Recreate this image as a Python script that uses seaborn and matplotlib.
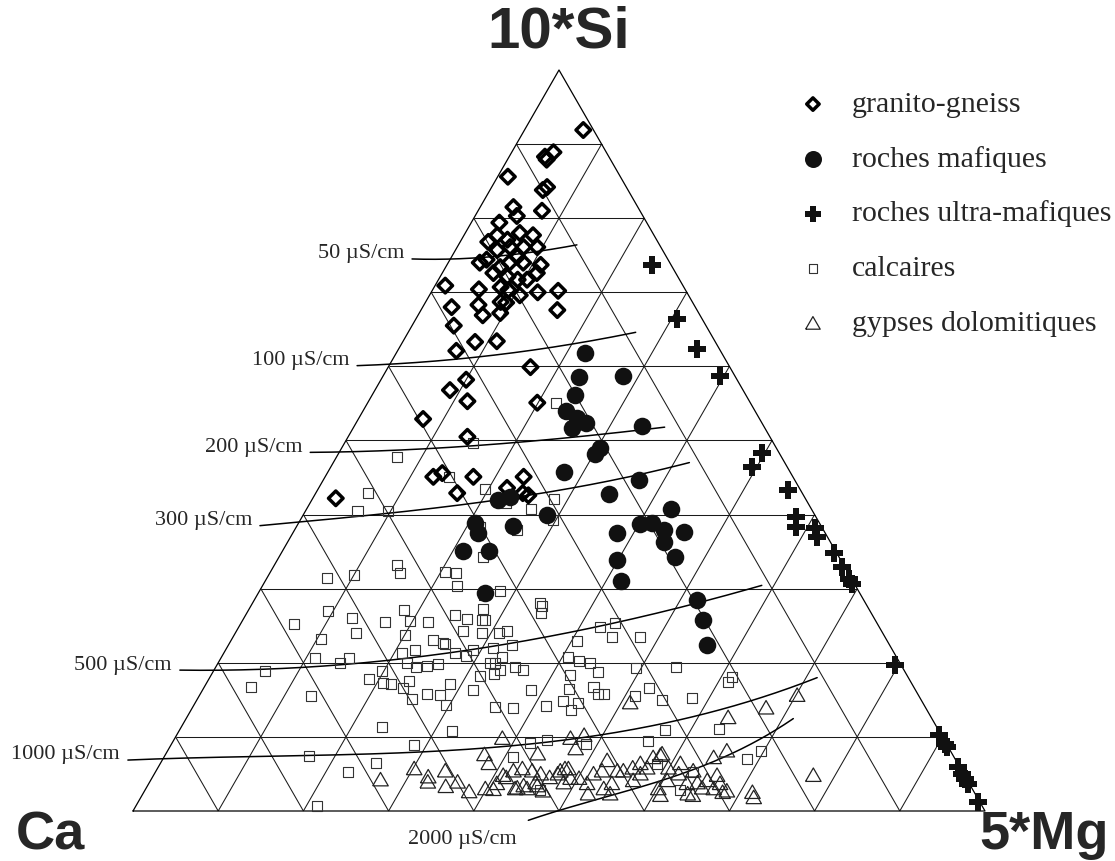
import numpy as np
import matplotlib
matplotlib.use("Agg")
import matplotlib.pyplot as plt
import seaborn as sns

# Ternary compositions in percent: 10*Si (top), 5*Mg (right); Ca = 100 - Si - Mg
gneiss_si = [91.9, 88.3, 88.9, 87.9, 85.6, 84.2, 83.8, 81.5, 80.3, 81.0, 79.4, 76.8, 77.7,
             77.1, 78.0, 77.7, 76.1, 75.7, 76.1, 76.1, 74.8, 74.0, 74.4, 73.4, 74.0, 74.0,
             73.7, 72.6, 72.6, 72.1, 71.7, 71.7, 70.7, 70.3, 70.9, 70.4, 69.6, 70.0, 70.2,
             68.0, 68.3, 68.7, 67.6, 66.9, 67.2, 68.6, 65.5, 63.3, 63.4, 62.1, 59.9, 58.2,
             56.8, 55.3, 55.1, 52.9, 50.5, 45.1, 45.6, 42.9, 45.1, 43.6, 45.1, 42.6, 42.2, 42.9]
gneiss_mg = [6.9, 4.2, 4.9, 4.6, 1.2, 6.5, 6.2, 3.9, 4.9, 7.5, 3.3, 3.3, 3.9,
             5.4, 6.4, 8.1, 9.4, 4.9, 6.2, 7.8, 7.7, 3.7, 4.3, 6.4, 7.2, 8.8,
             11.0, 11.1, 6.0, 7.9, 9.3, 10.4, 7.8, 8.9, 1.2, 5.4, 10.6, 12.5, 14.8,
             3.4, 6.4, 8.8, 16.0, 7.6, 9.5, 9.5, 4.9, 8.5, 11.0, 6.9, 16.7, 10.0,
             8.8, 11.6, 19.9, 7.6, 14.0, 12.7, 13.5, 16.6, 17.4, 22.1, 23.3, 25.1, 2.7, 24.3]

mafic_si = [61.8, 58.6, 58.7, 56.1, 54.0, 53.0, 52.4, 51.7, 52.0, 49.0, 48.2, 45.7, 44.7,
            42.8, 42.0, 42.4, 39.9, 40.8, 38.7, 38.9, 37.9, 37.7, 36.3, 37.5, 38.9, 37.5,
            38.5, 35.1, 35.1, 34.3, 33.9, 31.0, 29.4, 28.5, 25.8, 22.4]
mafic_mg = [22.2, 23.0, 28.2, 23.8, 23.8, 25.6, 27.0, 25.7, 33.7, 30.3, 30.1, 27.7, 37.0,
            34.5, 21.8, 23.0, 28.7, 42.7, 40.2, 41.5, 43.4, 45.8, 44.2, 38.1, 20.7, 21.7,
            25.4, 21.2, 24.2, 46.5, 39.9, 41.8, 26.6, 52.0, 54.0, 56.2]

ultra_si = [73.7, 66.4, 62.3, 58.7, 48.3, 46.4, 43.3, 39.7, 38.3, 38.2, 37.0, 34.8, 32.9,
            31.3, 30.6, 19.7, 10.3, 9.0, 8.6, 5.9, 5.0, 4.3, 3.6, 1.2]
ultra_mg = [24.1, 30.6, 35.0, 39.5, 49.7, 49.5, 55.2, 58.0, 58.7, 60.9, 61.8, 64.9, 66.8,
            68.4, 69.1, 79.6, 89.5, 90.8, 91.2, 93.9, 94.8, 95.5, 96.2, 98.6]

calc_si = [55.1, 49.7, 47.8, 45.1, 43.5, 42.9, 40.5, 40.5, 41.6, 40.8, 42.1, 39.3, 37.9, 38.3, 34.3,
           31.4, 31.8, 33.2, 32.1, 32.3, 32.1, 30.4, 29.1, 29.7,
           27.0, 25.2, 26.0, 24.0, 23.2, 25.5, 27.1, 25.6, 25.5, 23.8, 26.5, 25.9, 27.3, 25.8, 25.8,
           24.3, 24.0, 24.0, 24.3, 23.1, 22.7, 22.5, 21.3, 21.7, 20.9, 22.0, 22.4, 20.8,
           28.1, 27.7, 26.7,
           20.6, 20.0, 20.6, 18.9, 16.7, 15.5, 18.9, 17.8, 17.3, 17.1, 21.3, 21.7, 20.0, 19.4, 19.6,
           19.8, 17.5, 16.6, 15.1, 15.8, 15.7, 14.3, 17.1, 16.3, 18.2, 20.0, 20.0, 18.5, 19.0, 19.4,
           19.0, 16.3, 14.0, 13.9, 14.2,
           20.8, 20.2, 20.0, 18.8, 18.4, 16.5, 16.7, 14.8, 13.6, 14.6, 24.8, 25.4, 23.5, 23.5, 22.9,
           19.3, 19.4, 15.8, 15.8, 15.5, 16.6, 15.0, 15.2, 17.4, 18.1,
           11.3, 8.9, 7.4, 6.5, 5.3, 0.7, 10.8, 9.2, 9.6, 7.3, 9.0, 10.9, 11.1, 9.4, 8.1, 7.0,
           6.3, 5.3, 2.8, 2.8]
calc_mg = [22.1, 15.1, 7.1, 14.5, 19.6, 6.1, 6.1, 9.7, 23.0, 26.3, 28.4, 29.7, 26.1, 21.6, 23.9,
           7.1, 10.0, 14.4, 15.3, 20.5, 21.9, 22.8, 26.7, 28.2,
           9.4, 6.3, 12.7, 14.2, 10.5, 16.8, 18.3, 19.7, 21.9, 20.0, 24.6, 26.3, 27.4, 28.1, 28.4,
           26.6, 29.0, 31.0, 31.8, 23.7, 25.0, 25.4, 27.2, 29.1, 28.6, 31.3, 33.3, 32.9,
           33.7, 34.2, 34.5,
           11.1, 14.3, 15.1, 6.1, 5.5, 13.1, 19.8, 18.8, 20.7, 21.7, 20.9, 22.2, 22.2, 23.5, 24.7,
           25.9, 23.6, 23.4, 25.2, 26.6, 28.2, 29.6, 28.6, 31.7, 31.6, 31.9, 32.5, 33.1, 33.6, 35.1,
           36.3, 38.6, 35.5, 37.6, 41.4,
           40.7, 42.2, 43.6, 45.2, 42.1, 42.9, 45.7, 43.1, 44.6, 44.9, 42.4, 43.9, 44.5, 47.8, 40.7,
           49.4, 54.0, 46.7, 47.4, 51.2, 52.3, 54.6, 58.0, 61.1, 61.3,
           23.6, 28.5, 17.0, 25.3, 22.6, 21.3, 32.0, 42.0, 43.8, 41.0, 48.7, 57.0, 63.2, 55.7, 69.7, 68.6,
           58.3, 63.1, 62.8, 46.4]

gyps_si = [4.3, 5.8, 4.7, 4.0, 5.5, 3.4, 4.0, 2.7, 3.1, 3.0, 7.7, 6.5, 9.9, 7.8, 9.9, 8.5, 10.3,
           14.7, 12.7, 14.0, 15.7, 8.2, 7.3, 4.9, 2.6, 1.9, 7.6,
           4.9, 5.5, 5.8, 5.5, 5.1, 4.6, 5.5, 5.8, 3.2, 3.1, 3.5, 2.8, 3.9, 4.5, 3.8, 4.6, 3.1, 3.9,
           5.1, 5.8, 4.5, 5.1, 5.5, 6.9, 5.5, 3.8, 2.4, 5.5, 5.9, 6.5, 5.9, 7.3, 7.8, 5.9, 5.1, 5.5,
           4.2, 3.1, 3.8, 2.6, 3.2, 2.2, 3.8, 4.2, 3.1, 2.2, 4.2, 5.1, 3.8, 2.4, 3.1, 6.5, 2.4, 4.9,
           2.8, 3.9, 3.5]
gyps_mg = [26.9, 30.1, 32.3, 32.6, 33.9, 35.0, 36.1, 38.1, 39.8, 40.8, 37.4, 38.5, 38.4, 43.6,
           46.4, 47.7, 47.8, 51.0, 63.5, 67.3, 70.1, 65.6, 64.5, 77.4, 71.4, 71.9, 58.1,
           41.0, 41.9, 42.8, 44.1, 45.3, 46.6, 47.4, 48.2, 43.5, 44.7, 45.7, 46.7, 48.6, 49.1, 40.8,
           41.5, 43.3, 45.3, 47.3, 47.8, 50.1, 51.5, 52.3, 52.2, 54.1, 54.3, 54.8, 54.8, 55.7, 56.3,
           57.4, 57.4, 58.2, 59.9, 61.5, 63.0, 65.3, 66.6, 67.0, 67.9, 65.2, 64.6, 63.1, 60.6, 60.1,
           60.8, 56.6, 57.0, 51.4, 52.2, 53.7, 61.0, 63.9, 66.1, 68.3, 64.3, 44.1]

# Conductivity isolines (nodes in the same ternary percent units)
iso_labels = ["50 µS/cm", "100 µS/cm", "200 µS/cm", "300 µS/cm",
              "500 µS/cm", "1000 µS/cm", "2000 µS/cm"]
iso_si = [[74.5, 74.6, 75.2, 76.4],
          [60.1, 61.3, 63.2, 64.6],
          [48.4, 49.7, 51.0, 51.8],
          [38.5, 40.2, 42.1, 44.7, 47.0],
          [19.0, 20.4, 23.5, 26.2, 30.4],
          [6.9, 7.4, 8.2, 9.85, 12.3, 15.0, 18.1],
          [-1.2, 0.4, 4.6, 10.3, 12.6]]
iso_mg = [[-4.5, 2.3, 7.8, 13.9],
          [-3.75, 10.05, 20.9, 26.7],
          [-3.4, 19.75, 30.8, 36.5],
          [-4.35, 9.7, 22.85, 33.95, 41.8],
          [-4.0, 19.6, 38.05, 45.6, 58.6],
          [-4.05, 16.8, 33.1, 46.4, 58.45, 65.7, 71.25],
          [47.0, 51.1, 60.7, 69.65, 71.2]]

apex_labels = ["10*Si", "Ca", "5*Mg"]

H = np.sqrt(3) / 2


def tern_xy(si, mg):
    si = np.asarray(si, float) / 100.0
    mg = np.asarray(mg, float) / 100.0
    return mg + si / 2.0, si * H


sns.set_style("white")
plt.rcParams["font.family"] = ["Liberation Serif", "DejaVu Serif"]

fig = plt.figure(figsize=(11.15, 8.61), dpi=100)
ax = fig.add_axes([0, 0, 1, 1])
PX = 852.0
PY = 741.0 / H
ax.set_xlim(-133 / PX, (1115 - 133) / PX)
ax.set_ylim(-50 / PY, 811 / PY)
ax.axis("off")

# triangular grid, 10 divisions per side
grid_kw = dict(color="#1a1a1a", lw=0.75, zorder=1, solid_capstyle="butt")
for t in range(10, 100, 10):
    ax.plot(*tern_xy([t, t], [0, 100 - t]), **grid_kw)
    ax.plot(*tern_xy([0, 100 - t], [t, t]), **grid_kw)
    ax.plot(*tern_xy([0, 100 - t], [100 - t, 0]), **grid_kw)
ax.plot(*tern_xy([0, 0, 100, 0], [0, 100, 0, 0]), color="black", lw=0.9, zorder=1)

# conductivity isolines with their labels
for lab, si, mg in zip(iso_labels, iso_si, iso_mg):
    x, y = tern_xy(si, mg)
    coef = np.polyfit(x, y, min(3, len(x) - 1))
    xs = np.linspace(x[0], x[-1], 200)
    ax.plot(xs, np.polyval(coef, xs), color="black", lw=1.1, zorder=2)
    if lab.startswith("2000"):
        ax.annotate(lab, (x[0], y[0]), xytext=(-120, -20), textcoords="offset pixels",
                    ha="left", va="center", fontsize=16)
    else:
        ax.annotate(lab, (x[0], y[0]), xytext=(-8, 5), textcoords="offset pixels",
                    ha="right", va="center", fontsize=16)

# sample groups
tri_marker = [(-1, -0.866), (1, -0.866), (0, 0.866), (-1, -0.866)]
groups = [
    ("calcaires", calc_si, calc_mg,
     dict(marker="s", s=52, facecolor="none", edgecolor="#333333", linewidth=0.8, zorder=3)),
    ("gypses dolomitiques", gyps_si, gyps_mg,
     dict(marker=tri_marker, s=125, facecolor="none", edgecolor="#222222", linewidth=0.9, zorder=3)),
    ("granito-gneiss", gneiss_si, gneiss_mg,
     dict(marker="D", s=55, facecolor="none", edgecolor="black", linewidth=2.5, zorder=4)),
    ("roches mafiques", mafic_si, mafic_mg,
     dict(marker="o", s=160, color="#111111", edgecolor="#111111", linewidth=0, zorder=5)),
    ("roches ultra-mafiques", ultra_si, ultra_mg,
     dict(marker="P", s=170, color="#111111", edgecolor="#111111", linewidth=0, zorder=5)),
]
for name, si, mg, kw in groups:
    x, y = tern_xy(si, mg)
    sns.scatterplot(x=x, y=y, ax=ax, label=name, legend=False, **kw)

order = ["granito-gneiss", "roches mafiques", "roches ultra-mafiques",
         "calcaires", "gypses dolomitiques"]
h, l = ax.get_legend_handles_labels()
lut = dict(zip(l, h))
leg = ax.legend([lut[n] for n in order], order, loc="upper left",
                bbox_to_anchor=(798 / 1115, 1 - 91 / 861), frameon=False,
                prop={"family": "Liberation Serif", "size": 21.5},
                handletextpad=0.8, labelspacing=0.93, borderpad=0, borderaxespad=0,
                scatterpoints=1, handlelength=1.0)
for hd, sz in zip(leg.legend_handles, [40, 150, 140, 40, 110]):
    hd.set_sizes([sz])

# apex titles
tkw = dict(fontweight="bold", family="Liberation Sans")
ax.annotate(apex_labels[0], tern_xy(100, 0), xytext=(0, 37), textcoords="offset pixels",
            ha="center", va="center", fontsize=42, **tkw)
ax.annotate(apex_labels[1], tern_xy(0, 0), xytext=(-83, -38), textcoords="offset pixels",
            ha="center", va="baseline", fontsize=39, **tkw)
ax.annotate(apex_labels[2], tern_xy(0, 100), xytext=(59, -38), textcoords="offset pixels",
            ha="center", va="baseline", fontsize=39, **tkw)

fig.savefig("out.png", dpi=100)
